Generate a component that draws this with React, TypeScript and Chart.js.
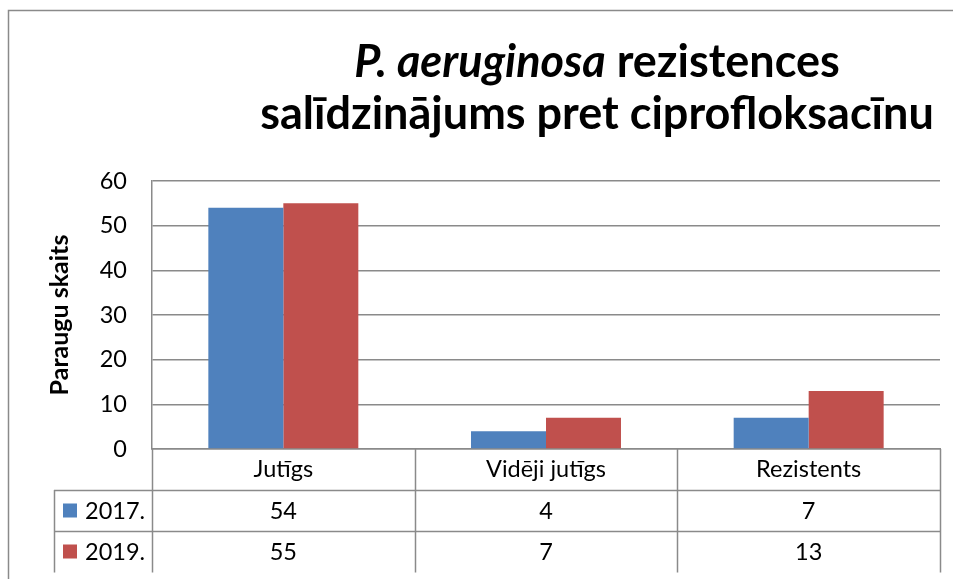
import React, { useEffect, useRef } from "react";
import { Chart, registerables } from "chart.js";

Chart.register(...registerables);

const categories = ["Jutīgs", "Vidēji jutīgs", "Rezistents"];
const seriesNames = ["2017.", "2019."];
const values2017 = [54, 4, 7];
const values2019 = [55, 7, 13];
const seriesValues = [values2017, values2019];
const seriesColors = ["#4F81BD", "#C0504D"];
const titleItalic = "P. aeruginosa";
const titleRest = " rezistences";
const titleLine2 = "salīdzinājums pret ciprofloksacīnu";
const yAxisTitle = "Paraugu skaits";

const FONT = "Lato, 'Open Sans', sans-serif";
const GRID = "#8a8a8a";
const TXT = 23.5;

const decorPlugin = {
  id: "decor",
  afterDraw(chart: any) {
    const ctx = chart.ctx;
    const area = chart.chartArea;
    const x = chart.scales.x;
    ctx.save();
    // outer frame
    ctx.strokeStyle = GRID;
    ctx.lineWidth = 1.5;
    ctx.beginPath();
    ctx.moveTo(8.5, 579);
    ctx.lineTo(8.5, 10.5);
    ctx.lineTo(953, 10.5);
    ctx.stroke();

    // title
    ctx.fillStyle = "#000";
    ctx.textBaseline = "alphabetic";
    const tSize = 45;
    const fItal = `italic bold ${tSize}px ${FONT}`;
    const fBold = `bold ${tSize}px ${FONT}`;
    ctx.font = fItal;
    const w1 = ctx.measureText(titleItalic).width;
    ctx.font = fBold;
    const w2 = ctx.measureText(titleRest).width;
    const cx = 597;
    let sx = cx - (w1 + w2) / 2;
    ctx.textAlign = "left";
    ctx.font = fItal;
    ctx.fillText(titleItalic, sx, 77);
    ctx.font = fBold;
    ctx.fillText(titleRest, sx + w1, 77);
    ctx.textAlign = "center";
    ctx.fillText(titleLine2, cx, 129);

    // data table
    const rowH = 41;
    const top = area.bottom;
    const legendLeft = 54;
    const left = area.left;
    const right = area.right;
    const n = categories.length;
    const half = (x.getPixelForValue(1) - x.getPixelForValue(0)) / 2;
    ctx.strokeStyle = GRID;
    ctx.lineWidth = 1.5;
    ctx.beginPath();
    for (let r = 1; r <= seriesValues.length; r++) {
      const yy = Math.round(top + rowH * r) + 0.5;
      ctx.moveTo(legendLeft, yy);
      ctx.lineTo(right, yy);
    }
    const bottom = top + rowH * (seriesValues.length + 1);
    const vx = [left];
    for (let i = 0; i < n; i++) vx.push(x.getPixelForValue(i) + half);
    vx.forEach((v) => {
      const xx = Math.round(v) + 0.5;
      ctx.moveTo(xx, top);
      ctx.lineTo(xx, bottom + 0.5);
    });
    ctx.moveTo(legendLeft + 0.5, top + rowH);
    ctx.lineTo(legendLeft + 0.5, bottom + 0.5);
    ctx.stroke();

    ctx.font = `${TXT}px ${FONT}`;
    ctx.textBaseline = "middle";
    seriesValues.forEach((vals, s) => {
      const cy = top + rowH * (s + 1) + rowH / 2;
      ctx.fillStyle = seriesColors[s];
      ctx.fillRect(63, cy - 7, 14, 14);
      ctx.fillStyle = "#000";
      ctx.textAlign = "left";
      ctx.fillText(seriesNames[s], 85, cy + 1);
      ctx.textAlign = "center";
      vals.forEach((v, i) => {
        ctx.fillText(String(v), x.getPixelForValue(i), cy + 1);
      });
    });
    ctx.restore();
  },
};

export default function App() {
  const ref = useRef<HTMLCanvasElement>(null);
  useEffect(() => {
    if (!ref.current) return;
    const chart = new Chart(ref.current, {
      type: "bar",
      data: {
        labels: categories,
        datasets: seriesNames.map((name, s) => ({
          label: name,
          data: seriesValues[s],
          backgroundColor: seriesColors[s],
          borderWidth: 0,
          categoryPercentage: 0.571,
          barPercentage: 1,
        })),
      },
      options: {
        responsive: false,
        animation: false,
        devicePixelRatio: 1,
        layout: { padding: { top: 181, right: 13, left: 0, bottom: 0 } },
        plugins: {
          legend: { display: false },
          title: { display: false },
          tooltip: { enabled: false },
        },
        scales: {
          x: {
            grid: { display: false, drawTicks: false },
            border: { display: true, color: GRID, width: 1.5 },
            ticks: {
              color: "#000",
              font: { family: FONT, size: TXT },
              padding: 6,
            },
            afterFit: (s: any) => {
              s.height = 130;
            },
          },
          y: {
            min: 0,
            max: 60,
            ticks: {
              stepSize: 10,
              color: "#000",
              font: { family: FONT, size: TXT },
              padding: 25,
            },
            grid: { color: GRID, lineWidth: 1.5, drawTicks: false },
            border: { display: true, color: GRID, width: 1.5 },
            title: {
              display: true,
              text: yAxisTitle,
              color: "#000",
              font: { family: FONT, size: 25, weight: "bold" },
              padding: { top: 45, bottom: 0 },
            },
            afterFit: (s: any) => {
              s.width = 152;
            },
          },
        },
      },
      plugins: [decorPlugin],
    });
    return () => chart.destroy();
  }, []);
  return (
    <div style={{ position: "absolute", left: 0, top: 0, width: 953, height: 579, background: "#fff" }}>
      <canvas ref={ref} width={953} height={579} />
    </div>
  );
}
